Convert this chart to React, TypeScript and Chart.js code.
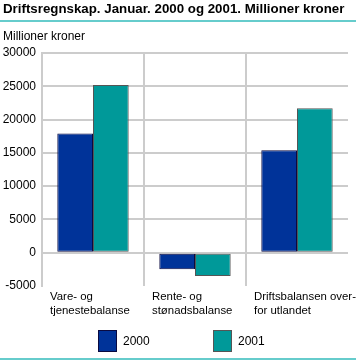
import React, { useEffect, useRef } from "react";
import { Chart, registerables } from "chart.js";

Chart.register(...registerables);

const categories: string[][] = [
  ["Vare- og", "tjenestebalanse"],
  ["Rente- og", "stønadsbalanse"],
  ["Driftsbalansen over-", "for utlandet"],
];
const seriesNames = ["2000", "2001"];
const values2000 = [17900, -2500, 15400];
const values2001 = [25200, -3500, 21700];
const yMin = -5000;
const yMax = 30000;
const yStep = 5000;
const titleText = "Driftsregnskap. Januar. 2000 og 2001. Millioner kroner";
const unitText = "Millioner kroner";

const FONT = "'Liberation Sans', Arial, sans-serif";
const BLUE = "#003399";
const TEAL = "#009999";
const GRID = "#cccccc";
const RULE = "#66cccc";

const decor = {
  id: "decor",
  afterDraw(chart: any) {
    const { ctx, chartArea } = chart;
    ctx.save();
    ctx.fillStyle = RULE;
    ctx.fillRect(0, 20, 356, 2);
    ctx.fillRect(0, 358, 356, 2);
    chart.data.datasets.forEach((ds: any, i: number) => {
      const x = chartArea.left + 56 + i * 115;
      const y = 330;
      ctx.fillStyle = ds.backgroundColor;
      ctx.fillRect(x, y, 19, 22);
      ctx.strokeStyle = ds.borderColor;
      ctx.lineWidth = 1;
      ctx.strokeRect(x + 0.5, y + 0.5, 18, 21);
      ctx.fillStyle = "#000";
      ctx.font = `12px ${FONT}`;
      ctx.textBaseline = "middle";
      ctx.textAlign = "left";
      ctx.fillText(ds.label, x + 25, y + 11.5);
    });
    ctx.restore();
  },
};

export default function App() {
  const ref = useRef<HTMLCanvasElement | null>(null);
  useEffect(() => {
    document.body.style.margin = "0";
    const chart = new Chart(ref.current as HTMLCanvasElement, {
      type: "bar",
      data: {
        labels: categories,
        datasets: [
          {
            label: seriesNames[0],
            data: values2000,
            backgroundColor: BLUE,
            borderColor: "#0a0a40",
            borderWidth: 1,
            borderSkipped: false,
            categoryPercentage: 0.7,
            barPercentage: 1.0,
          },
          {
            label: seriesNames[1],
            data: values2001,
            backgroundColor: TEAL,
            borderColor: "#555555",
            borderWidth: 1,
            borderSkipped: false,
            categoryPercentage: 0.7,
            barPercentage: 1.0,
          },
        ],
      },
      options: {
        animation: false,
        responsive: false,
        layout: { padding: { left: 3, right: 8, top: 0, bottom: 0 } },
        plugins: {
          legend: { display: false },
          tooltip: { enabled: false },
          title: {
            display: true,
            text: titleText,
            align: "start",
            color: "#000",
            font: { family: FONT, size: 13.3, weight: "bold", lineHeight: 1.2 },
            padding: { top: 1, bottom: 5 },
          },
          subtitle: {
            display: true,
            text: unitText,
            align: "start",
            color: "#000",
            font: { family: FONT, size: 12, lineHeight: 14 / 12 },
            padding: { top: 8, bottom: 9 },
          },
        },
        scales: {
          x: {
            offset: true,
            grid: {
              offset: true,
              drawTicks: false,
              lineWidth: 2,
              color: (c: any) => (c.index === 1 || c.index === 2 ? GRID : "transparent"),
            },
            border: { display: false },
            ticks: {
              align: "start",
              labelOffset: -43,
              padding: 4,
              autoSkip: false,
              maxRotation: 0,
              minRotation: 0,
              color: "#000",
              font: { family: FONT, size: 11.4, lineHeight: 14 / 11.4 },
            },
            afterFit: (s: any) => {
              s.paddingLeft = 0;
              s.paddingRight = 0;
              s.height = 75;
            },
          },
          y: {
            min: yMin,
            max: yMax,
            grid: {
              drawTicks: false,
              lineWidth: 2,
              color: (c: any) => (c.tick && c.tick.value === yMin ? "transparent" : GRID),
            },
            border: { display: true, color: GRID, width: 2 },
            ticks: {
              stepSize: yStep,
              padding: 6,
              color: "#000",
              font: { family: FONT, size: 12 },
              callback: (v: any) => String(v),
            },
            afterFit: (s: any) => {
              s.width = 39;
            },
          },
        },
      },
      plugins: [decor],
    } as any);
    return () => chart.destroy();
  }, []);
  return (
    <div style={{ width: 356, height: 361 }}>
      <canvas ref={ref} width={356} height={361} />
    </div>
  );
}
